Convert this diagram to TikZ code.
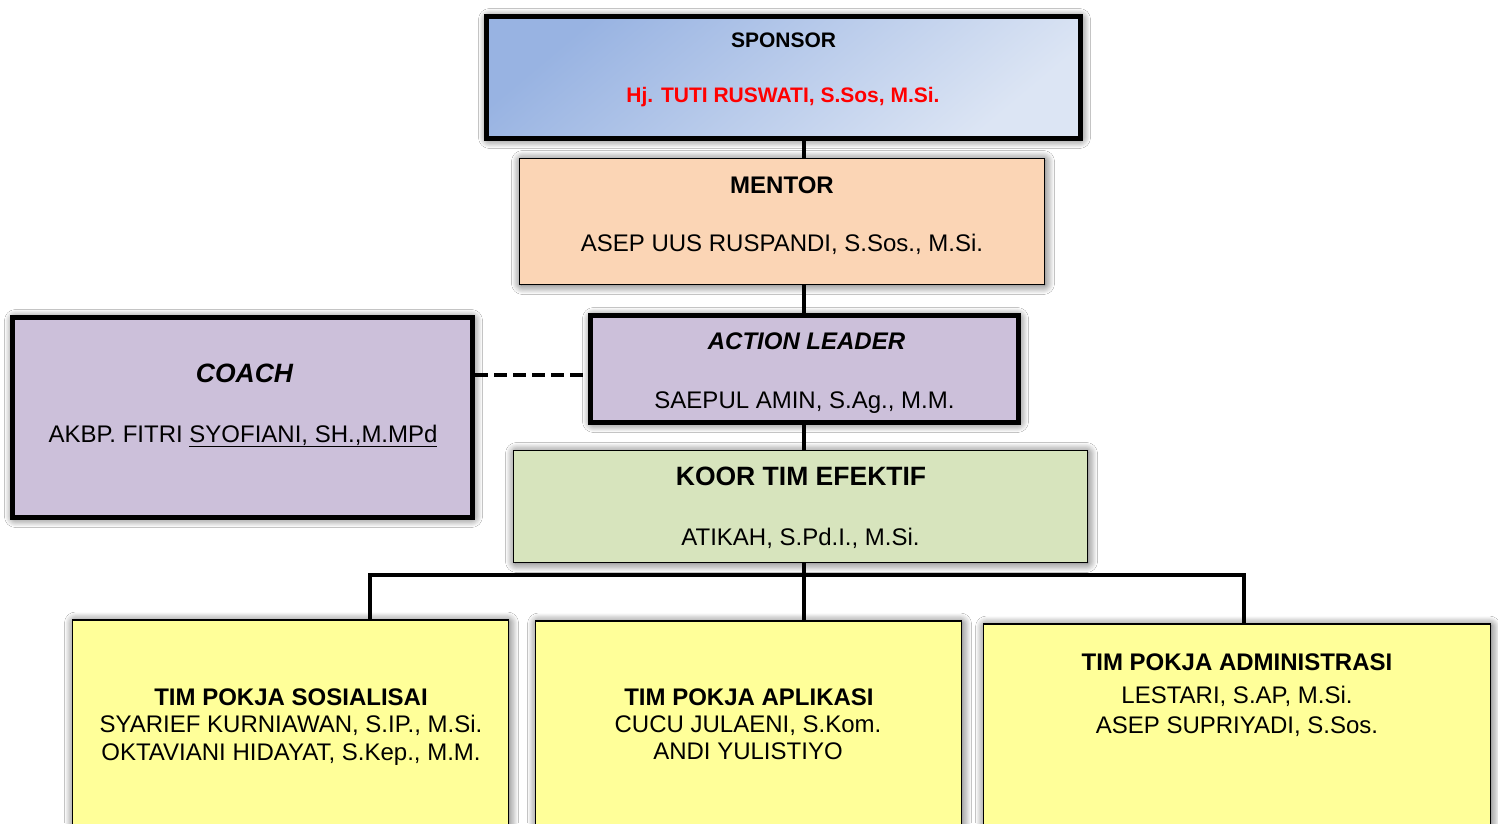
\documentclass[tikz,border=0pt]{standalone}
\usepackage{fontspec}
\setmainfont{Liberation Sans}
\usetikzlibrary{shadows.blur}
\definecolor{spA}{HTML}{98B3E2}
\definecolor{spB}{HTML}{DCE5F4}
\definecolor{menC}{HTML}{FBD5B5}
\definecolor{purC}{HTML}{CCC0DA}
\definecolor{korC}{HTML}{D7E4BD}
\definecolor{yelC}{HTML}{FFFF99}
\definecolor{redC}{HTML}{FF0000}
\begin{document}
\begin{tikzpicture}[x=1pt,y=-1pt,
  box/.style={draw=black, rectangle, inner sep=0pt,
    blur shadow={shadow xshift=1pt, shadow yshift=-1pt, shadow blur radius=9pt,
      shadow blur extra rounding=2pt, shadow blur steps=12, shadow opacity=70}},
  thickbox/.style={box, line width=5pt},
  thinbox/.style={box, line width=1.5pt},
  conn/.style={line width=4pt},
  txt/.style={anchor=base, inner sep=0pt, font=\fontsize{24}{28}\selectfont},
  txtb/.style={txt, font=\fontsize{24}{28}\selectfont\bfseries},
  txtbi/.style={txt, font=\fontsize{24}{28}\selectfont\bfseries\itshape},
  txtsm/.style={txt, font=\fontsize{21}{25}\selectfont\bfseries},
  txtbig/.style={txt, font=\fontsize{26.5}{30}\selectfont\bfseries},
  txtbigi/.style={txt, font=\fontsize{26.5}{30}\selectfont\bfseries\itshape}
]
\clip (0,0) rectangle (1498,823);
\fill[white] (0,0) rectangle (1498,823);

% boxes
\node[thickbox, left color=spA, right color=spB, shading angle=40,
      minimum width=594pt, minimum height=122pt] (sp) at (783.5,77.5) {};
\node[thinbox, fill=menC, minimum width=525pt, minimum height=126pt] (men) at (782,221.5) {};
\node[thickbox, fill=purC, minimum width=428pt, minimum height=107pt] (act) at (804.5,369) {};
\node[thickbox, fill=purC, minimum width=460pt, minimum height=200pt] (coach) at (242.5,417.5) {};
\node[thinbox, fill=korC, minimum width=574pt, minimum height=112pt] (kor) at (800.5,506.5) {};
\node[thinbox, fill=yelC, minimum width=436pt, minimum height=280pt] (ps) at (290.5,760) {};
\node[thinbox, fill=yelC, minimum width=426pt, minimum height=280pt] (pa) at (748.5,761) {};
\node[thinbox, fill=yelC, minimum width=507pt, minimum height=280pt] (pad) at (1237,764) {};

% connectors
\coordinate (tx) at (804,0);
\coordinate (dy) at (0,375);
\coordinate (bl) at (370,575);
\coordinate (br) at (1244,575);
\draw[conn] (sp.south -| tx) -- (men.north -| tx);
\draw[conn] (men.south -| tx) -- (act.north -| tx);
\draw[conn] (act.south -| tx) -- (kor.north -| tx);
\draw[conn] (kor.south -| tx) -- (pa.north -| tx);
\draw[conn] (ps.north -| bl) -- (bl) -- (br) -- (pad.north -| br);
\draw[conn, dash pattern=on 13pt off 6pt] (coach.east |- dy) -- (act.west |- dy);

% texts
\node[txtsm] (spT) at (783.5,47) {SPONSOR};
\node[txtsm, text=redC] (spN) at (783,102) {Hj. TUTI RUSWATI, S.Sos, M.Si.};
\node[txtb] (menT) at (782,193) {MENTOR};
\node[txt] (menN) at (782,251) {ASEP UUS RUSPANDI, S.Sos., M.Si.};
\node[txtbi] (actT) at (806.5,349) {ACTION LEADER};
\node[txt] (actN) at (804.5,408) {SAEPUL AMIN, S.Ag., M.M.};
\node[txtbigi] (coT) at (244.5,382) {COACH};
\node[txt] (coN) at (243,442) {AKBP. FITRI \underline{SYOFIANI, SH.,M.MPd}};
\node[txtbig] (korT) at (801,485) {KOOR TIM EFEKTIF};
\node[txt] (korN) at (800.5,545) {ATIKAH, S.Pd.I., M.Si.};

\node[txtb] (psT) at (291,705) {TIM POKJA SOSIALISAI};
\node[txt] (psA) at (291,732) {SYARIEF KURNIAWAN, S.IP., M.Si.};
\node[txt] (psB) at (291,760) {OKTAVIANI HIDAYAT, S.Kep., M.M.};

\node[txtb] (paT) at (749,705) {TIM POKJA APLIKASI};
\node[txt] (paA) at (748,732) {CUCU JULAENI, S.Kom.};
\node[txt] (paB) at (748,759) {ANDI YULISTIYO};

\node[txtb] (padT) at (1237,670) {TIM POKJA ADMINISTRASI};
\node[txt] (padA) at (1237,703) {LESTARI, S.AP, M.Si.};
\node[txt] (padB) at (1237,733) {ASEP SUPRIYADI, S.Sos.};
\end{tikzpicture}
\end{document}
